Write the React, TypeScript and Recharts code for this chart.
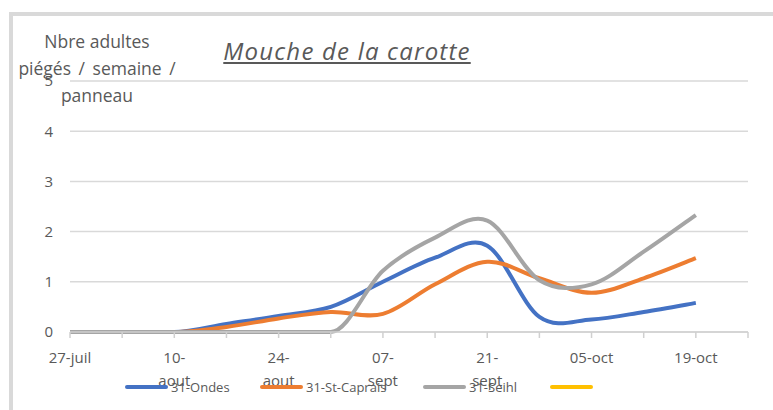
import { LineChart, Line, XAxis, YAxis, CartesianGrid } from 'recharts';

// weekly sampling dates (last one has no data yet)
const weeks = ['27-juil', '03-aout', '10-aout', '17-aout', '24-aout', '31-aout', '07-sept', '14-sept', '21-sept', '28-sept', '05-oct', '12-oct', '19-oct', '26-oct'];
const tickLabels: Record<number, string[]> = {
  0: ['27-juil'],
  2: ['10-', 'aout'],
  4: ['24-', 'aout'],
  6: ['07-', 'sept'],
  8: ['21-', 'sept'],
  10: ['05-oct'],
  12: ['19-oct'],
};

const ondes = [0, 0, 0, 0.16, 0.32, 0.5, 1.0, 1.48, 1.72, 0.3, 0.25, 0.4, 0.58];
const stCaprais = [0, 0, 0, 0.1, 0.27, 0.4, 0.36, 0.95, 1.4, 1.07, 0.78, 1.07, 1.47];
const seihl = [0, 0, 0, 0, 0, 0, 1.22, 1.88, 2.22, 1.03, 0.95, 1.6, 2.33];

const yTicks = [0, 1, 2, 3, 4, 5];

const series = [
  { key: 'ondes', name: '31-Ondes', color: '#4472c4', w: 135 },
  { key: 'stCaprais', name: '31-St-Caprais', color: '#ed7d31', w: 163 },
  { key: 'seihl', name: '31-Seihl', color: '#a5a5a5', w: 127 },
  { key: 'vide', name: '', color: '#ffc000', w: 50 },
];

const data = ondes.map((_, i) => ({
  i,
  week: weeks[i],
  ondes: ondes[i],
  stCaprais: stCaprais[i],
  seihl: seihl[i],
}));

// Excel-like smoothing: catmull-rom bezier, flat where a neighbour is equal
function excelSmooth(context: any) {
  let pts: number[][] = [];
  const tan = (k: number) => {
    const a = pts[k - 1] || pts[k];
    const b = pts[k + 1] || pts[k];
    const p = pts[k];
    const tx = (b[0] - a[0]) / 6;
    let ty = (b[1] - a[1]) / 6;
    if ((pts[k - 1] && pts[k - 1][1] === p[1]) || (pts[k + 1] && pts[k + 1][1] === p[1])) ty = 0;
    return [tx, ty];
  };
  return {
    areaStart() {},
    areaEnd() {},
    lineStart() { pts = []; },
    point(x: number, y: number) { pts.push([+x, +y]); },
    lineEnd() {
      if (!pts.length) return;
      context.moveTo(pts[0][0], pts[0][1]);
      for (let k = 0; k < pts.length - 1; k++) {
        const p1 = pts[k];
        const p2 = pts[k + 1];
        const t1 = tan(k);
        const t2 = tan(k + 1);
        context.bezierCurveTo(p1[0] + t1[0], p1[1] + t1[1], p2[0] - t2[0], p2[1] - t2[1], p2[0], p2[1]);
      }
    },
  };
}

const font = '"Open Sans", sans-serif';
const grey = '#595959';

function XTick({ x, y, payload }: any) {
  const lines = tickLabels[payload.value];
  if (!lines) return null;
  return (
    <text x={x} y={y} textAnchor="middle" fill={grey} fontSize={15} fontFamily={font}>
      {lines.map((l, k) => (
        <tspan key={k} x={x} dy={23}>{l}</tspan>
      ))}
    </text>
  );
}

export default function App() {
  return (
    <div style={{ position: 'fixed', left: 0, top: 0, width: 773, height: 410, overflow: 'hidden', background: '#fff', fontFamily: font }}>
      <div style={{ position: 'absolute', left: 9, top: 12, width: 820, height: 450, border: '4px solid #d9d9d9', boxSizing: 'border-box' }} />
      <LineChart width={773} height={410} data={data} margin={{ top: 81, right: 25, left: 40, bottom: 48 }} style={{ position: 'absolute', left: 0, top: 0 }}>
        <CartesianGrid vertical={false} stroke="#d9d9d9" strokeWidth={1.5} />
        <XAxis
          dataKey="i"
          type="number"
          domain={[0, 13]}
          ticks={weeks.map((_, i) => i)}
          interval={0}
          height={30}
          stroke="#d0d0d0"
          strokeWidth={1.5}
          tickSize={6}
          tick={<XTick />}
        />
        <YAxis
          domain={[0, 5]}
          ticks={yTicks}
          width={30}
          axisLine={false}
          tickLine={false}
          tickSize={0}
          tickMargin={17}
          tick={{ fill: grey, fontSize: 15, fontFamily: font }}
        />
        {series.slice(0, 3).map(s => (
          <Line
            key={s.key}
            dataKey={s.key}
            name={s.name}
            stroke={s.color}
            strokeWidth={4}
            type={excelSmooth as any}
            dot={false}
            activeDot={false}
            isAnimationActive={false}
          />
        ))}
      </LineChart>
      <div style={{ position: 'absolute', left: 97, top: 28, transform: 'translateX(-50%)', textAlign: 'center', color: grey, fontSize: 17.5, lineHeight: '27px', whiteSpace: 'nowrap' }}>
        Nbre adultes<br /><span style={{ wordSpacing: 3 }}>piégés / semaine /</span><br />panneau
      </div>
      <div style={{ position: 'absolute', left: 347, top: 36, transform: 'translateX(-50%)', color: grey, fontSize: 24, letterSpacing: 1.2, fontStyle: 'italic', textDecoration: 'underline', whiteSpace: 'nowrap', lineHeight: '30px' }}>
        Mouche de la carotte
      </div>
      <div style={{ position: 'absolute', left: 125, top: 378, display: 'flex', alignItems: 'center', fontSize: 13, color: grey }}>
        {series.map(s => (
          <div key={s.key} style={{ display: 'flex', alignItems: 'center', width: s.w }}>
            <div style={{ width: 43, height: 4, borderRadius: 2, background: s.color, marginRight: 3 }} />
            {s.name && <span>{s.name}</span>}
          </div>
        ))}
      </div>
    </div>
  );
}
